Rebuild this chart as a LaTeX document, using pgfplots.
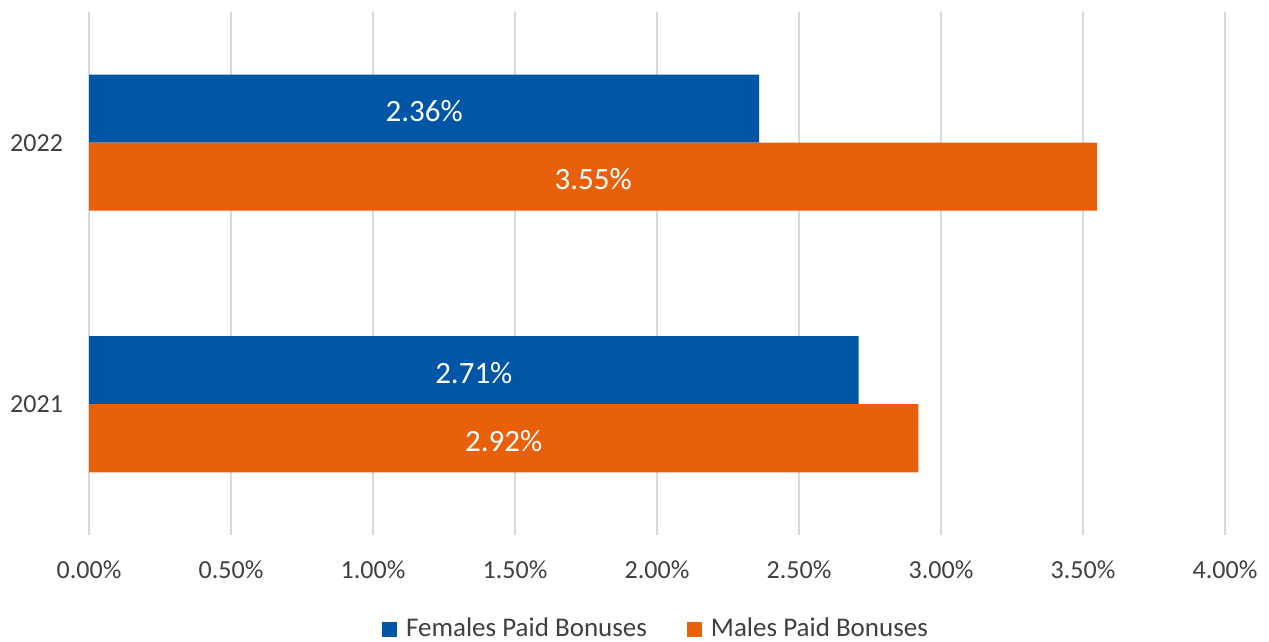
\documentclass[border=0pt]{standalone}
\usepackage{fontspec}
\setmainfont{Carlito}
\usepackage{pgfplots}
\pgfplotsset{compat=1.18}
\definecolor{fblue}{HTML}{0056A6}
\definecolor{morange}{HTML}{E8600A}
\definecolor{txt}{HTML}{404040}
\definecolor{gridc}{HTML}{D9D9D9}
\begin{document}
\begin{tikzpicture}
\begin{axis}[
  name=ax, scale only axis, width=568pt, height=261.5pt,
  xmin=0, xmax=4, ymin=-0.5, ymax=1.5,
  xtick={0,0.5,1,1.5,2,2.5,3,3.5,4}, ytick={0,1}, yticklabels={2021,2022},
  xmajorgrids, major grid style={gridc, line width=1pt},
  axis line style={draw=none}, major tick length=0pt,
  /pgf/number format/assume math mode=true,
  xticklabel={\pgfmathprintnumber[fixed,fixed zerofill,precision=2]{\tick}\%},
  tick label style={font=\fontsize{13}{15}\selectfont, text=txt},
  xticklabel style={yshift=-9.5pt},
  yticklabel style={xshift=-9.5pt},
  legend style={draw=none, at={(0.5,0)}, anchor=center, yshift=-47pt,
    font=\fontsize{13.5}{15}\selectfont, text=txt,
    /tikz/every even column/.append style={column sep=18pt}},
  legend columns=2,
  legend image code/.code={\fill[#1] (0pt,-3.75pt) rectangle (7.5pt,3.75pt); \path (10pt,0pt);},
  clip=false,
]
\addplot[xbar, fill=fblue, draw=none, bar width=34pt, bar shift=17pt] coordinates {(2.71,0) (2.36,1)};
\addlegendentry{Females Paid Bonuses}
\addplot[xbar, fill=morange, draw=none, bar width=34pt, bar shift=-17pt] coordinates {(2.92,0) (3.55,1)};
\addlegendentry{Males Paid Bonuses}
\addplot[only marks, mark=none, forget plot, nodes near coords, point meta=explicit symbolic,
  nodes near coords style={anchor=center, text=white, font=\fontsize{15.5}{18}\selectfont}]
  coordinates {(1.355,0.12)[2.71\%] (1.18,1.12)[2.36\%] (1.46,-0.14)[2.92\%] (1.775,0.86)[3.55\%]};
\end{axis}
\pgfresetboundingbox
\path ([shift={(-44.5pt,-53.5pt)}]ax.south west) rectangle ([shift={(22pt,6pt)}]ax.north east);
\end{tikzpicture}
\end{document}
